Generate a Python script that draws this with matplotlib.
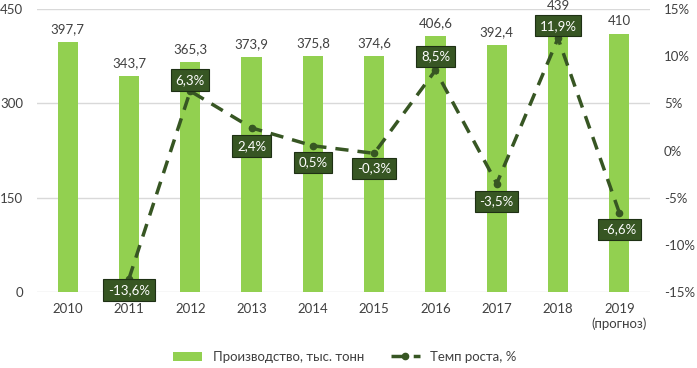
import matplotlib
matplotlib.use("Agg")
import matplotlib.pyplot as plt
import numpy as np

plt.rcParams['font.family'] = ['Lato', 'DejaVu Sans']

years = ["2010", "2011", "2012", "2013", "2014", "2015", "2016", "2017", "2018", "2019\n(прогноз)"]
production = [397.7, 343.7, 365.3, 373.9, 375.8, 374.6, 406.6, 392.4, 439, 410]
prod_labels = ["397,7", "343,7", "365,3", "373,9", "375,8", "374,6", "406,6", "392,4", "439", "410"]
growth = [np.nan, -13.6, 6.3, 2.4, 0.5, -0.3, 8.5, -3.5, 11.9, -6.6]
growth_labels = ["", "-13,6%", "6,3%", "2,4%", "0,5%", "-0,3%", "8,5%", "-3,5%", "11,9%", "-6,6%"]
left_ticks = [0, 150, 300, 450]
right_ticks = [-15, -10, -5, 0, 5, 10, 15]

bar_color = "#92D050"
line_color = "#375623"
text_color = "#404040"
fs = 9.5

fig = plt.figure(figsize=(6.97, 3.68), dpi=100)
ax = fig.add_axes([37/697, 1 - 292/368, (650-37)/697, (292-9)/368])
x = np.arange(len(years))
ax.bar(x, production, width=0.33, color=bar_color, zorder=2, label="Производство, тыс. тонн")
ax.set_ylim(0, 450)
ax.set_xlim(-0.5, len(years) - 0.5)
ax.set_yticks(left_ticks)
ax.set_yticklabels([str(t) for t in left_ticks])
ax.grid(axis='y', color="#D9D9D9", linewidth=1, zorder=0)
for s in ax.spines.values():
    s.set_visible(False)
ax.tick_params(length=0, colors=text_color, labelsize=fs)
ax.set_xticks(x)
ax.set_xticklabels(years)
ax.tick_params(axis='x', pad=8)
ax.tick_params(axis='y', pad=10)
for xi, v, lab in zip(x, production, prod_labels):
    dy = 3 if v > 430 else 5
    ax.annotate(lab, (xi, v), xytext=(0, dy), textcoords='offset points', ha='center', va='bottom',
                fontsize=fs, color=text_color, zorder=5, annotation_clip=False)

ax2 = ax.twinx()
ax2.set_ylim(-15, 15)
ax2.set_yticks(right_ticks)
ax2.set_yticklabels([f"{t}%" for t in right_ticks])
for s in ax2.spines.values():
    s.set_visible(False)
ax2.tick_params(length=0, colors=text_color, labelsize=fs, pad=10)
ax2.plot(x, growth, color=line_color, linewidth=2.5, linestyle=(0, (3.8, 2.6)), marker='o',
         markersize=4.5, zorder=3, label="Темп роста, %")
offsets = {1: (0, -8), 2: (0, 8), 3: (0, -13), 4: (0, -12), 5: (0, -11), 6: (0, 10), 7: (0, -13), 8: (0, 9), 9: (0, -12)}
for i, (xi, v, lab) in enumerate(zip(x, growth, growth_labels)):
    if not lab:
        continue
    dx, dy = offsets[i]
    ax2.annotate(lab, (xi, v), xytext=(dx, dy), textcoords='offset points', ha='center', va='center',
                 fontsize=fs, color='white', zorder=6, annotation_clip=False,
                 bbox=dict(boxstyle='square,pad=0.35', facecolor=line_color, edgecolor='#1E3014', linewidth=0.8))

h1, l1 = ax.get_legend_handles_labels()
h2, l2 = ax2.get_legend_handles_labels()
fig.legend(h1 + h2, l1 + l2, loc='center', bbox_to_anchor=(0.495, 1 - 357/368), ncol=2, frameon=False,
           fontsize=fs, labelcolor=text_color, handlelength=2.2, columnspacing=2.0)

fig.savefig("out.png", dpi=100)
